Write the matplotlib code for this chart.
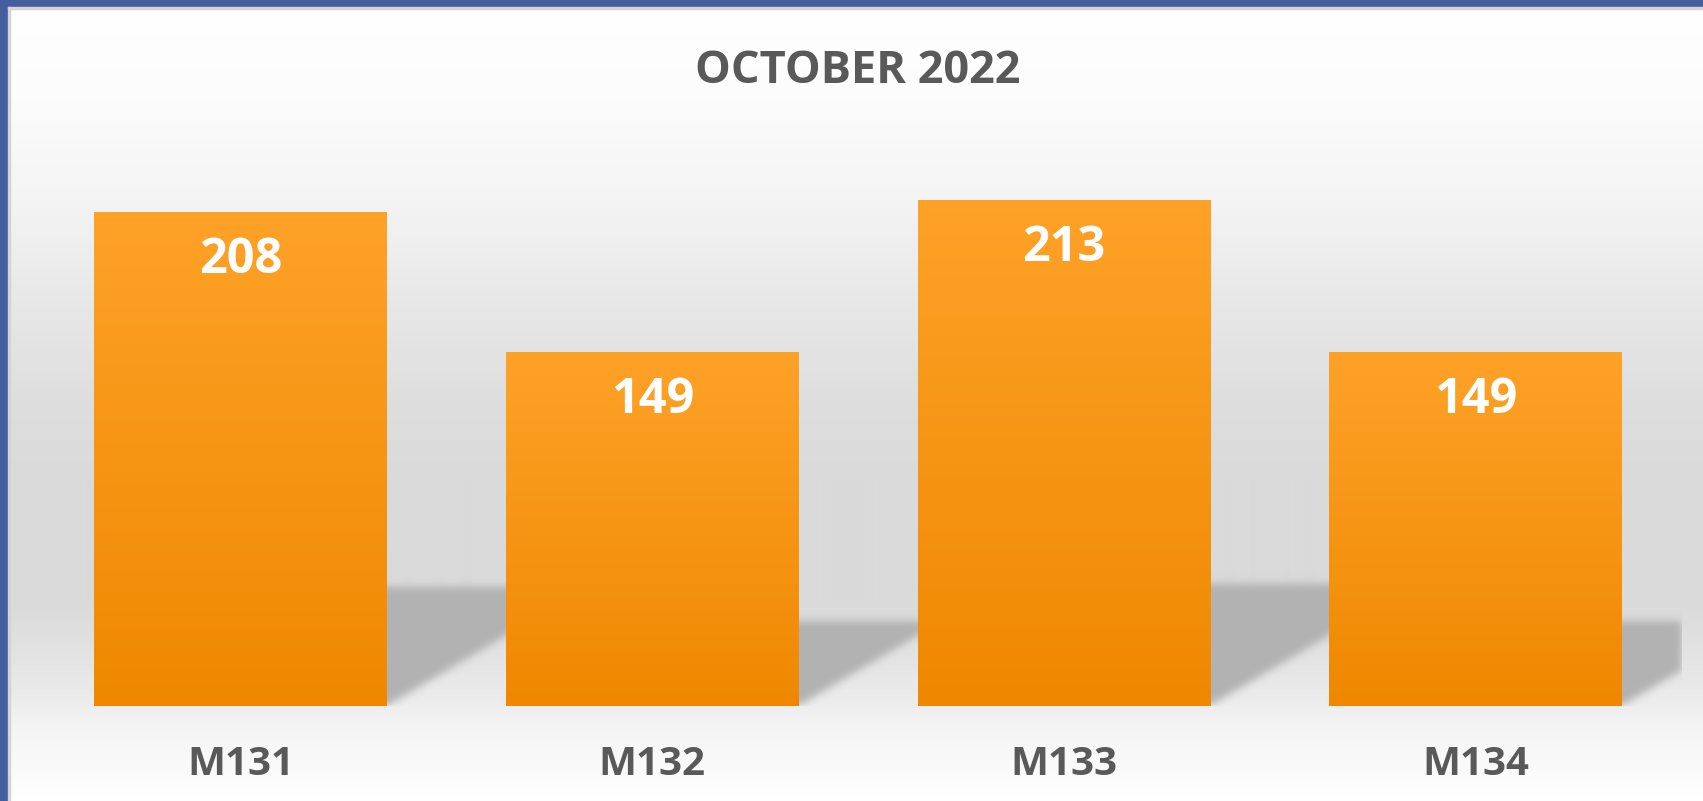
import numpy as np
import matplotlib
matplotlib.use("Agg")
import matplotlib.pyplot as plt
from matplotlib.patches import Rectangle
from matplotlib.path import Path
import matplotlib.transforms as mtransforms

# data
categories = ["M131", "M132", "M133", "M134"]
values = [208, 149, 213, 149]
title = "OCTOBER 2022"

plt.rcParams['font.family'] = ['Open Sans', 'DejaVu Sans']

W, H = 1703, 801
fig = plt.figure(figsize=(W / 100, H / 100), dpi=100)

# background gradient (px from top -> grey level)
bg = fig.add_axes([0, 0, 1, 1], zorder=-10)
stops_y = [0, 100, 200, 300, 400, 480, 600, 650, 700, 725, 801]
stops_c = [255, 252, 244, 232, 222, 218, 218, 226, 236, 244, 255]
rows = np.interp(np.arange(H), stops_y, stops_c) / 255.0
grad = np.repeat(rows[:, None], 3, axis=1)[:, None, :]
bg.imshow(grad, aspect='auto', extent=[0, 1, 0, 1], interpolation='bilinear')
bg.set_xlim(0, 1)
bg.set_ylim(0, 1)
bg.axis('off')

# blue frame on left and top
blue = '#455f9e'
bg.add_patch(Rectangle((0, 0), 8 / W, 1, color=blue, transform=bg.transAxes))
bg.add_patch(Rectangle((0, 1 - 7 / H), 1, 7 / H, color=blue, transform=bg.transAxes))
bg.add_patch(Rectangle((8 / W, 0), 1.5 / W, 1 - 7 / H, color='#d4d4d4', transform=bg.transAxes))
bg.add_patch(Rectangle((8 / W, 1 - 8.5 / H), 1, 1.5 / H, color='#d4d4d4', transform=bg.transAxes))

# plot area
x0, x1 = 34.65, 1681.5
base_px = 95
ymax = 240
px_per_unit = 2.376
ax = fig.add_axes([x0 / W, base_px / H, (x1 - x0) / W, ymax * px_per_unit / H])
ax.set_xlim(-0.5, 3.5)
ax.set_ylim(0, ymax)
ax.patch.set_alpha(0)
ax.axis('off')

xs = np.arange(len(categories))
bar_w = 0.71
bars = ax.bar(xs, values, width=bar_w, color='none', edgecolor='none', zorder=3)

# perspective shadows behind the bars
px_per_x = (x1 - x0) / 4.0
k_shadow = 0.24
slope = 0.59
nx, ny = int(x1 - x0), int(ymax * px_per_unit)
gx = np.linspace(-0.5, 3.5, nx)
gy = np.linspace(0, ymax, ny)
GX, GY = np.meshgrid(gx, gy)
pts = np.column_stack([GX.ravel(), GY.ravel()])
mask = np.zeros(GX.size)
for xc, v in zip(xs, values):
    hs = k_shadow * v
    dx = hs * px_per_unit / slope / px_per_x
    poly = Path([(xc - bar_w / 2, 0), (xc + bar_w / 2, 0),
                 (xc + bar_w / 2 + dx, hs), (xc - bar_w / 2 + dx, hs)])
    mask = np.maximum(mask, poly.contains_points(pts).astype(float))
mask = mask.reshape(GX.shape)
sig = 4.0
kx = np.arange(-12, 13)
kern = np.exp(-kx ** 2 / (2 * sig ** 2))
kern /= kern.sum()
mask = np.apply_along_axis(lambda r: np.convolve(r, kern, mode='same'), 1, mask)
mask = np.apply_along_axis(lambda c: np.convolve(c, kern, mode='same'), 0, mask)
shadow = np.zeros(mask.shape + (4,))
shadow[..., :3] = 0.70
shadow[..., 3] = mask
ax.imshow(shadow, origin='lower', extent=[-0.5, 3.5, 0, ymax], aspect='auto',
          interpolation='bilinear', zorder=1)

# orange gradient bars
top_c = np.array([0xfe, 0xa2, 0x28]) / 255.0
bot_c = np.array([0xef, 0x88, 0x00]) / 255.0
t = np.linspace(0, 1, 256)[:, None]
bar_grad = (bot_c * (1 - t) + top_c * t)[:, None, :]
for b in bars:
    bx, by = b.get_x(), b.get_y()
    bw, bh = b.get_width(), b.get_height()
    im = ax.imshow(bar_grad, origin='lower', extent=[bx, bx + bw, by, by + bh],
                   aspect='auto', interpolation='bilinear', zorder=3)
    im.set_clip_path(b)

ax.set_xlim(-0.5, 3.5)
ax.set_ylim(0, ymax)

# value labels inside bars
lab_tr = mtransforms.offset_copy(ax.transData, fig=fig, x=0, y=-61, units='dots')
for xc, v in zip(xs, values):
    ax.text(xc, v, str(v), transform=lab_tr, ha='center', va='baseline',
            fontsize=35, fontweight='bold', color='white', zorder=5)

# category labels
cat_tr = mtransforms.offset_copy(ax.transData, fig=fig, x=0, y=-69, units='dots')
for xc, c in zip(xs, categories):
    ax.text(xc, 0, c, transform=cat_tr, ha='center', va='baseline',
            fontsize=29, fontweight='bold', color='#595959', clip_on=False)

fig.text((x0 + x1) / 2 / W, 1 - 83 / H, title, ha='center', va='baseline',
         fontsize=32.5, fontweight='bold', color='#595959')

fig.savefig('out.png', dpi=100)
